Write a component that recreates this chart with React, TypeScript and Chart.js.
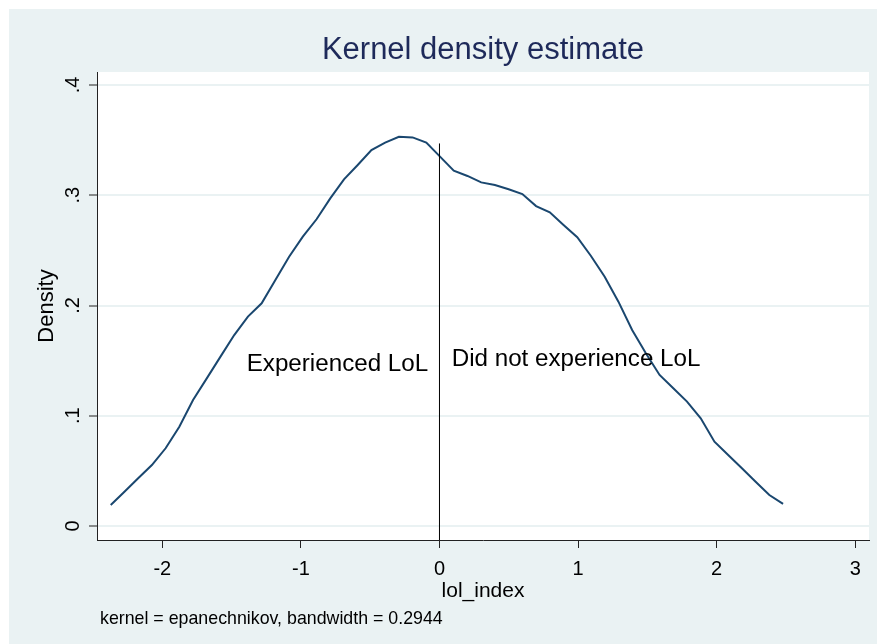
import { useEffect, useRef } from 'react';
import { Chart, registerables } from 'chart.js';

Chart.register(...registerables);

// ---- data ----
const gridX = [
  -2.372, -2.273, -2.174, -2.075, -1.976, -1.877, -1.778, -1.679, -1.58, -1.481,
  -1.382, -1.283, -1.184, -1.085, -0.986, -0.887, -0.788, -0.689, -0.59, -0.491,
  -0.392, -0.293, -0.194, -0.095, 0.004, 0.103, 0.202, 0.301, 0.4, 0.499,
  0.598, 0.697, 0.796, 0.895, 0.994, 1.093, 1.192, 1.291, 1.39, 1.489,
  1.588, 1.687, 1.786, 1.885, 1.984, 2.083, 2.182, 2.281, 2.38, 2.479,
];
const densityY = [
  0.019, 0.0311, 0.0433, 0.0553, 0.0705, 0.0901, 0.1143, 0.1339, 0.1536, 0.1732,
  0.1899, 0.202, 0.2231, 0.2443, 0.2624, 0.2782, 0.2972, 0.3144, 0.3274, 0.341,
  0.3477, 0.3531, 0.3525, 0.3477, 0.335, 0.3223, 0.3175, 0.3117, 0.3093, 0.3054,
  0.3011, 0.2902, 0.2845, 0.273, 0.2619, 0.2449, 0.2261, 0.2035, 0.1778, 0.1566,
  0.137, 0.1249, 0.1128, 0.0977, 0.0765, 0.0644, 0.0523, 0.0402, 0.0281, 0.02,
];
const xTickValues = [-2, -1, 0, 1, 2, 3];
const xTickLabels = ['-2', '-1', '0', '1', '2', '3'];
const yTickValues = [0, 0.1, 0.2, 0.3, 0.4];
const yTickLabels = ['0', '.1', '.2', '.3', '.4'];
const xRange = [-2.471, 3.099];
const yRange = [-0.0127, 0.4118];
const refLineX = [0, 0];
const refLineY = [-0.0127, 0.347];
const noteTexts = ['Experienced LoL', 'Did not experience LoL'];
const noteX = [-1.391, 0.088];
const noteY = [0.141, 0.145];
const titleText = 'Kernel density estimate';
const xTitleText = 'lol_index';
const yTitleText = 'Density';
const footnoteText = 'kernel = epanechnikov, bandwidth = 0.2944';

const FONT = '"Liberation Sans", Arial, Helvetica, sans-serif';
const BG = '#EAF2F3';

const decorPlugin = {
  id: 'decor',
  beforeDraw(chart: any) {
    const { ctx, width, height, chartArea: a } = chart;
    ctx.save();
    ctx.fillStyle = '#ffffff';
    ctx.fillRect(0, 0, width, height);
    ctx.fillStyle = BG;
    ctx.fillRect(9, 9, width - 9, height - 9);
    ctx.fillStyle = '#ffffff';
    ctx.fillRect(a.left, a.top, a.right - a.left, a.bottom - a.top);
    ctx.restore();
  },
  afterDatasetsDraw(chart: any) {
    const { ctx, scales, chartArea: a } = chart;
    ctx.save();
    ctx.fillStyle = '#000000';
    ctx.textAlign = 'left';
    ctx.textBaseline = 'alphabetic';
    ctx.font = `24.2px ${FONT}`;
    noteTexts.forEach((t, i) => {
      ctx.fillText(t, scales.x.getPixelForValue(noteX[i]), scales.y.getPixelForValue(noteY[i]));
    });
    ctx.font = `17.8px ${FONT}`;
    ctx.fillText(footnoteText, a.left + 3, 623.5);
    ctx.restore();
  },
};

export default function App() {
  const ref = useRef<HTMLCanvasElement | null>(null);

  useEffect(() => {
    document.body.style.margin = '0';
    const canvas = ref.current;
    if (!canvas) return;
    const chart = new Chart(canvas, {
      type: 'scatter',
      data: {
        datasets: [
          {
            data: refLineX.map((x, i) => ({ x, y: refLineY[i] })),
            showLine: true,
            borderColor: '#000000',
            borderWidth: 1,
            pointRadius: 0,
          },
          {
            data: gridX.map((x, i) => ({ x, y: densityY[i] })),
            showLine: true,
            borderColor: '#1a476f',
            borderWidth: 2,
            pointRadius: 0,
            tension: 0,
          },
        ],
      },
      options: {
        responsive: false,
        animation: false,
        devicePixelRatio: 1,
        layout: { padding: { left: 0, right: 8, top: 0, bottom: 0 } },
        plugins: {
          legend: { display: false },
          tooltip: { enabled: false },
          title: {
            display: true,
            text: titleText,
            fullSize: false,
            color: '#1e2a5a',
            font: { family: FONT, size: 31, weight: 'normal', lineHeight: 1.2 },
            padding: { top: 31.8, bottom: 3 },
          },
        },
        scales: {
          x: {
            type: 'linear',
            min: xRange[0],
            max: xRange[1],
            afterBuildTicks: (s: any) => {
              s.ticks = xTickValues.map((v) => ({ value: v }));
            },
            afterFit: (s: any) => {
              s.height = 104;
            },
            ticks: {
              callback: (_v: any, i: number) => xTickLabels[i],
              color: '#000000',
              font: { family: FONT, size: 20 },
              padding: 9,
              maxRotation: 0,
              minRotation: 0,
              autoSkip: false,
            },
            grid: {
              drawOnChartArea: false,
              drawTicks: true,
              tickLength: 8,
              tickColor: '#222222',
              tickWidth: 1,
            },
            border: { display: true, color: '#222222', width: 1 },
            title: {
              display: true,
              text: xTitleText,
              color: '#000000',
              font: { family: FONT, size: 21, lineHeight: 1.2 },
              padding: { top: 0, bottom: 40.5 },
            },
          },
          y: {
            type: 'linear',
            min: yRange[0],
            max: yRange[1],
            afterBuildTicks: (s: any) => {
              s.ticks = yTickValues.map((v) => ({ value: v }));
            },
            afterFit: (s: any) => {
              s.width = 97;
            },
            ticks: {
              callback: (_v: any, i: number) => yTickLabels[i],
              color: '#000000',
              font: { family: FONT, size: 20 },
              padding: 7,
              minRotation: 90,
              maxRotation: 90,
              crossAlign: 'center',
              autoSkip: false,
            },
            grid: {
              drawOnChartArea: true,
              color: BG,
              lineWidth: 2,
              drawTicks: true,
              tickLength: 8,
              tickColor: '#222222',
              tickWidth: 1,
            },
            border: { display: true, color: '#222222', width: 1 },
            title: {
              display: true,
              text: yTitleText,
              color: '#000000',
              font: { family: FONT, size: 22, lineHeight: 1.2 },
              padding: { top: 34, bottom: 0 },
            },
          },
        },
      },
      plugins: [decorPlugin],
    } as any);
    return () => chart.destroy();
  }, []);

  return (
    <canvas
      ref={ref}
      width={877}
      height={644}
      style={{ display: 'block', position: 'absolute', left: 0, top: 0, width: 877, height: 644 }}
    />
  );
}
